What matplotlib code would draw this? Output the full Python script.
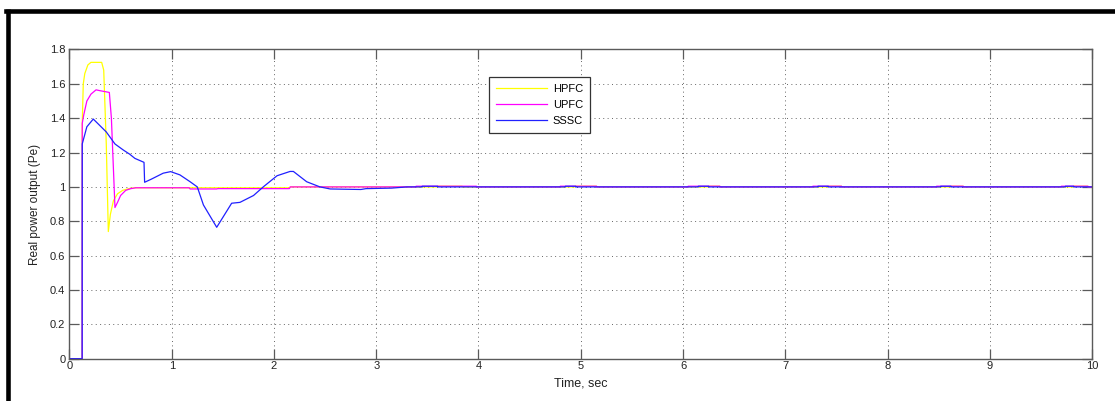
import matplotlib
matplotlib.use('Agg')
import matplotlib.pyplot as plt
from matplotlib.lines import Line2D

plt.rcParams['font.family'] = ['Liberation Sans', 'DejaVu Sans']

# transient part of each response (time in s, Pe in pu)
hpfc_t = [0, 0.124, 0.125, 0.135, 0.15, 0.18, 0.21, 0.315, 0.335, 0.36, 0.38, 0.40, 0.43, 0.47, 0.52, 0.58, 0.64, 2.15, 2.16, 3.3]
hpfc_pe = [0, 0, 1.37, 1.60, 1.66, 1.71, 1.725, 1.725, 1.68, 1.25, 0.74, 0.84, 0.92, 0.96, 0.98, 0.99, 0.995, 0.995, 1.0, 1.0]

upfc_t = [0, 0.124, 0.125, 0.14, 0.17, 0.21, 0.26, 0.30, 0.39, 0.41, 0.445, 0.47, 0.50, 0.55, 0.60, 0.65, 1.17, 1.18, 1.44, 1.45, 2.15, 2.16, 3.3]
upfc_pe = [0, 0, 1.37, 1.42, 1.50, 1.54, 1.565, 1.56, 1.55, 1.40, 0.88, 0.91, 0.95, 0.98, 0.99, 0.995, 0.995, 0.988, 0.988, 0.99, 0.99, 1.0, 1.0]

sssc_t = [0, 0.124, 0.125, 0.17, 0.233, 0.36, 0.445, 0.526, 0.59, 0.64, 0.729, 0.735, 0.80, 0.917, 0.99, 1.08, 1.18, 1.25, 1.31, 1.44, 1.586, 1.667, 1.80, 1.895, 2.03, 2.157, 2.19, 2.32, 2.45, 2.55, 2.85, 2.9, 3.15, 3.3]
sssc_pe = [0, 0, 1.25, 1.35, 1.395, 1.32, 1.25, 1.215, 1.19, 1.166, 1.143, 1.027, 1.045, 1.08, 1.089, 1.07, 1.03, 1.0, 0.895, 0.765, 0.905, 0.91, 0.95, 1.0, 1.065, 1.09, 1.09, 1.03, 1.0, 0.988, 0.985, 0.99, 0.993, 1.0]

# small periodic steps in steady state (start, end)
upfc_steps = [(3.39, 3.98), (4.80, 5.155), (6.05, 6.36), (7.27, 7.55), (8.48, 8.74), (9.70, 9.96)]
hpfc_steps = [(3.60, 3.84), (4.95, 5.155), (6.25, 6.36), (7.42, 7.55), (8.62, 8.74), (9.82, 9.96)]
sssc_steps = [(3.45, 3.60), (4.85, 4.95), (6.15, 6.25), (7.32, 7.42), (8.52, 8.62), (9.74, 9.82)]
step_level = 1.004
t_end = 10

yticks = [0, 0.2, 0.4, 0.6, 0.8, 1, 1.2, 1.4, 1.6, 1.8]
ytick_labels = ['0', '0.2', '0.4', '0.6', '0.8', '1', '1.2', '1.4', '1.6', '1.8']
xticks = [0, 1, 2, 3, 4, 5, 6, 7, 8, 9, 10]


def with_steps(t, pe, steps):
    t = list(t)
    pe = list(pe)
    for a, b in steps:
        t += [a, a, b, b]
        pe += [1.0, step_level, step_level, 1.0]
    t.append(t_end)
    pe.append(1.0)
    return t, pe


fig = plt.figure(figsize=(11.15, 4.01), dpi=100)
ax = fig.add_axes([0.0623, 0.1055, 0.9171, 0.7711])

frame_col = '#5a5a5a'
t, pe = with_steps(hpfc_t, hpfc_pe, hpfc_steps)
ax.plot(t, pe, color='#ffff00', lw=0.9, label='HPFC')
t, pe = with_steps(upfc_t, upfc_pe, upfc_steps)
ax.plot(t, pe, color='#ff00ff', lw=0.9, label='UPFC')
t, pe = with_steps(sssc_t, sssc_pe, sssc_steps)
ax.plot(t, pe, color='#2020ff', lw=0.9, label='SSSC')

ax.set_xlim(0, 10)
ax.set_ylim(0, 1.8)
ax.set_xticks(xticks)
ax.set_xticklabels([str(x) for x in xticks])
ax.set_yticks(yticks)
ax.set_yticklabels(ytick_labels)
ax.tick_params(direction='in', length=7, width=0.9, color=frame_col,
               labelsize=8, top=True, right=True, labelcolor='#222222')
ax.tick_params(axis='x', pad=2)
ax.tick_params(axis='y', pad=3)
for s in ax.spines.values():
    s.set_color(frame_col)
    s.set_linewidth(1.0)
ax.grid(True, color='#666666', linestyle=(0, (1, 3.5)), linewidth=0.7)

ax.set_xlabel('Time, sec', fontsize=9, color='#222222', labelpad=4)
ax.set_ylabel('Real power output (Pe)', fontsize=8.5, color='#222222', labelpad=6)

leg = ax.legend(loc='upper left', bbox_to_anchor=(489 / 1115, 1 - 77 / 401),
                bbox_transform=fig.transFigure, borderaxespad=0, fontsize=8,
                fancybox=False, framealpha=1, edgecolor='#333333',
                handlelength=4.6, handletextpad=0.55, labelspacing=0.55,
                borderpad=0.6)
leg.get_frame().set_linewidth(0.9)

# black frame around the figure
fig.add_artist(Line2D([6 / 1115, 1], [1 - 10.5 / 401] * 2, transform=fig.transFigure,
                      color='black', lw=3.3))
fig.add_artist(Line2D([8 / 1115] * 2, [0, 1 - 8.5 / 401], transform=fig.transFigure,
                      color='black', lw=3.3, solid_capstyle='butt'))

fig.savefig('out.png', dpi=100)
